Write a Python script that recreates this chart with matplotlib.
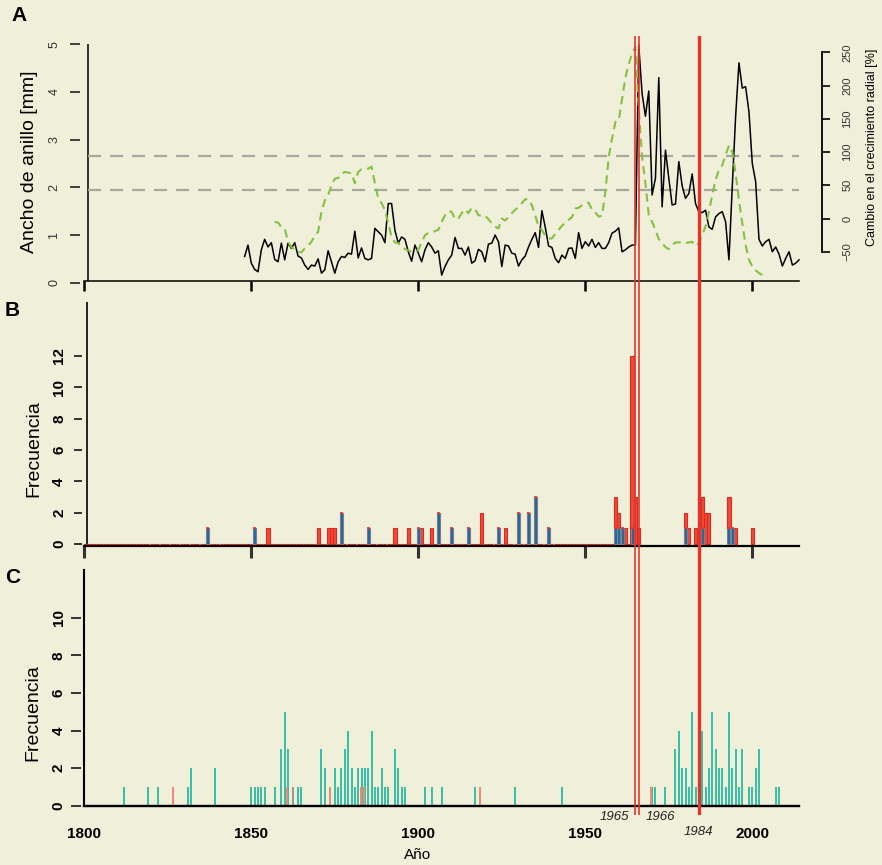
import numpy as np
import matplotlib
matplotlib.use("Agg")
import matplotlib.pyplot as plt

plt.rcParams["font.family"] = ["Liberation Sans", "DejaVu Sans"]

# ---- data ----
ring_start = 1848
ring_width = [
    0.55, 0.79, 0.41, 0.28, 0.23, 0.69, 0.91, 0.75, 0.84, 0.49,
    0.44, 0.83, 0.48, 0.83, 0.72, 0.84, 0.56, 0.52, 0.37, 0.28,
    0.37, 0.35, 0.50, 0.20, 0.27, 0.67, 0.44, 0.20, 0.44, 0.55,
    0.53, 0.62, 0.60, 1.08, 0.52, 0.73, 0.51, 0.48, 0.51, 1.14,
    1.07, 1.00, 0.84, 1.66, 1.66, 1.10, 0.83, 0.96, 0.91, 0.65,
    0.45, 0.79, 0.62, 0.44, 0.69, 0.84, 0.75, 0.62, 0.67, 0.16,
    0.34, 0.48, 0.58, 0.95, 0.72, 0.72, 0.58, 0.75, 0.41, 0.46,
    0.70, 0.65, 0.44, 0.81, 0.83, 1.00, 0.86, 0.34, 0.79, 0.77,
    0.62, 0.60, 0.35, 0.48, 0.56, 0.75, 0.91, 1.05, 0.74, 1.51,
    1.17, 0.77, 0.74, 0.51, 0.42, 0.58, 0.51, 0.72, 0.73, 0.51,
    1.05, 0.72, 0.86, 0.77, 0.91, 0.74, 0.84, 0.72, 0.72, 0.84,
    1.04, 1.08, 1.15, 0.65, 0.69, 0.75, 0.79, 0.79, 4.98, 3.97,
    3.49, 4.02, 1.84, 2.19, 4.30, 1.59, 2.78, 2.19, 1.63, 1.65,
    2.54, 2.03, 1.77, 1.87, 2.28, 1.66, 1.49, 1.47, 1.52, 1.17,
    1.12, 1.38, 1.45, 1.49, 1.28, 0.48, 2.01, 3.48, 4.61, 4.08,
    4.11, 3.58, 2.50, 2.12, 0.91, 0.77, 0.86, 0.91, 0.65, 0.75,
    0.60, 0.35, 0.51, 0.65, 0.37, 0.41, 0.48,
]

growth_start = 1857
growth_change = [
    -5, -6, -13, -15, -35, -43, -47, -50, -51, -45,
    -41, -35, -26, -20, 10, 27, 35, 50, 60, 61,
    67, 70, 69, 68, 53, 70, 74, 74, 75, 78,
    53, 30, 23, 13, -7, -28, -36, -37, -43, -46,
    -48, -50, -50, -47, -36, -25, -22, -21, -19, -17,
    -5, 5, 11, 10, -1, 0, 8, 14, 8, 16,
    14, 5, 4, 4, -1, -7, -12, -15, 0, -3,
    2, 8, 13, 17, 23, 29, 29, 20, 5, -12,
    -17, -26, -30, -30, -23, -17, -11, -6, -2, 2,
    15, 16, 20, 23, 24, 13, 9, 3, 4, 40,
    92, 120, 145, 147, 180, 212, 232, 248, 258, 165,
    93, 53, 5, -5, -17, -31, -37, -43, -46, -40,
    -36, -36, -35, -37, -36, -35, -41, -37, -25, -12,
    10, 35, 58, 73, 80, 95, 110, 100, 68, 28,
    -7, -40, -62, -72, -78, -82, -85,
]
threshold_mm = [2.66, 1.95]

event_years = [1965, 1966]
event_major = 1984

b_years = [1837, 1851, 1855, 1870, 1873, 1874, 1875, 1877, 1885, 1893,
           1897, 1900, 1901, 1904, 1906, 1910, 1915, 1919, 1924, 1926,
           1930, 1933, 1935, 1939, 1959, 1960, 1961, 1962, 1964, 1965,
           1966, 1980, 1981, 1983, 1985, 1986, 1987, 1993, 1994, 1995,
           2000]
b_total = [1, 1, 1, 1, 1, 1, 1, 2, 1, 1,
           1, 1, 1, 1, 2, 1, 1, 2, 1, 1,
           2, 2, 3, 1, 3, 2, 1, 1, 12, 3,
           1, 2, 1, 1, 3, 2, 2, 3, 1, 1,
           1]
b_blue = [1, 1, 0, 0, 0, 0, 0, 2, 1, 0,
          0, 1, 0, 0, 2, 1, 1, 0, 1, 0,
          2, 2, 3, 1, 1, 1, 1, 0, 1, 0,
          0, 1, 0, 0, 1, 0, 0, 1, 1, 0,
          0]
b_first, b_last = 1800, 1966

c_years = [1812, 1819, 1822, 1831, 1832, 1839, 1850, 1851, 1852, 1853,
           1854, 1857, 1859, 1860, 1861, 1864, 1865, 1871, 1872, 1875,
           1876, 1877, 1878, 1879, 1880, 1881, 1882, 1883, 1884, 1885,
           1886, 1887, 1888, 1889, 1890, 1891, 1893, 1894, 1895, 1896,
           1902, 1904, 1907, 1917, 1929, 1943, 1970, 1971, 1974, 1977,
           1978, 1979, 1980, 1981, 1982, 1983, 1985, 1986, 1987, 1988,
           1989, 1990, 1991, 1992, 1993, 1994, 1995, 1996, 1997, 1999,
           2000, 2001, 2002, 2007, 2008]
c_counts = [1, 1, 1, 1, 2, 2, 1, 1, 1, 1,
            1, 1, 3, 5, 3, 1, 1, 3, 2, 2,
            1, 2, 3, 4, 2, 1, 2, 2, 2, 2,
            4, 1, 1, 2, 1, 1, 3, 2, 1, 1,
            1, 1, 1, 1, 1, 1, 1, 1, 1, 3,
            4, 2, 2, 1, 5, 1, 4, 1, 2, 5,
            3, 2, 2, 1, 5, 2, 3, 1, 3, 1,
            1, 2, 3, 1, 1]
c_red_years = [1826.7, 1860.6, 1873.7, 1882.7, 1883.6, 1918.5, 1969.7]
c_red_counts = [1, 1, 1, 1, 1, 1, 1]
c_grey_years = [1862.4]
c_grey_counts = [1]

x_ticks = [1800, 1850, 1900, 1950, 2000]

# ---- styling ----
BG = "#F0EFDA"
RED = "#E4342A"
BLUE = "#246B9C"
TEAL = "#3BBFA6"
GREEN = "#86C043"
GREY = "#A8A89C"

W, H = 882, 865
X0, X1 = 1800, 2014
XL, XR = 84.3, 84.3 + 214 * 3.34


def box(top, bottom, left=XL, right=XR):
    return [left / W, 1 - bottom / H, (right - left) / W, (bottom - top) / H]


fig = plt.figure(figsize=(W / 100, H / 100), dpi=100, facecolor=BG)

# ---------- panel A ----------
ax_a = fig.add_axes(box(34.7, 285.6))
ax_a.set_facecolor("none")
ax_a.set_xlim(X0, X1)
ax_a.set_ylim(-0.06, 5.2)
for s in ["top", "right", "left"]:
    ax_a.spines[s].set_visible(False)
ax_a.spines["left"].set_position(("outward", 3))
ax_a.spines["bottom"].set_position(("data", 0.03))
ax_a.spines["bottom"].set_linewidth(1.1)
ax_a.set_xticks(x_ticks)
ax_a.tick_params(axis="x", length=7, width=1.8, color="black", labelbottom=False)
ax_a.set_yticks(range(6))
ax_a.tick_params(axis="y", length=7.2, width=1.2, color="#222", labelsize=9,
                 labelcolor="#333", pad=7, labelrotation=90)
for t in ax_a.get_yticklabels():
    t.set_va("center")
ax_a.vlines(1801, 0.03, 5, color="black", lw=1.1)

ax_a.hlines(threshold_mm, 1801, X1, colors=GREY, lw=1.6, linestyles=(0, (5.9, 4)))
yrs_a = np.arange(ring_start, ring_start + len(ring_width))
ax_a.plot(yrs_a, ring_width, color="black", lw=1.1, clip_on=False, zorder=4)

ax_r = ax_a.twinx()
ax_r.set_ylim(-100.9, 276.4)
for s in ["top", "left", "bottom"]:
    ax_r.spines[s].set_visible(False)
ax_r.spines["right"].set_position(("axes", (822 - XL) / (XR - XL)))
ax_r.spines["right"].set_bounds(-50, 250)
ax_r.spines["right"].set_linewidth(1.3)
ax_r.set_yticks(range(-50, 251, 50))
ax_r.tick_params(axis="y", length=5.8, width=1.2, labelsize=8, labelcolor="#333",
                 pad=9, labelrotation=90)
for t in ax_r.get_yticklabels():
    t.set_va("center")
yrs_g = np.arange(growth_start, growth_start + len(growth_change))
ax_r.plot(yrs_g, growth_change, color=GREEN, lw=1.5, ls=(0, (4, 2.6)), zorder=3)

# ---------- panel B ----------
ax_b = fig.add_axes(box(301.6, 545.6))
ax_b.set_facecolor("none")
ax_b.set_xlim(X0, X1)
ax_b.set_ylim(-0.1, 15.45)
for s in ["top", "right", "left"]:
    ax_b.spines[s].set_visible(False)
ax_b.spines["left"].set_position(("outward", 1.3))
ax_b.spines["bottom"].set_linewidth(1.6)
ax_b.set_xticks(x_ticks)
ax_b.tick_params(axis="x", length=8.6, width=2.2, color="#333", labelbottom=False)
ax_b.set_yticks(range(0, 13, 2))
ax_b.tick_params(axis="y", length=5.8, width=1.4, color="#333", labelsize=11,
                 pad=6, labelrotation=90)
for t in ax_b.get_yticklabels():
    t.set_va("center")
    t.set_fontweight("bold")
ax_b.axvline(1800.8, color="black", lw=1.2)

all_years = np.arange(b_first, b_last + 1)
all_total = np.zeros(len(all_years))
for y, v in zip(b_years, b_total):
    if y <= b_last:
        all_total[y - b_first] = v
late = [(y, v) for y, v in zip(b_years, b_total) if y > b_last]
bar_years = np.concatenate([all_years, [y for y, _ in late]])
bar_vals = np.concatenate([all_total, [v for _, v in late]])
ax_b.bar(bar_years, bar_vals, width=0.95, color="#EC4B3C", edgecolor="#E02A20",
         lw=0.8, zorder=2)
blue_years = [y for y, b in zip(b_years, b_blue) if b > 0]
blue_vals = [b for b in b_blue if b > 0]
ax_b.bar(blue_years, blue_vals, width=0.9, color=BLUE, edgecolor="#7E93A8",
         lw=0.5, zorder=3)
ax_b.hlines(blue_vals, np.array(blue_years) - 0.45, np.array(blue_years) + 0.45,
            colors=RED, lw=1.2, zorder=4)

# ---------- panel C ----------
ax_c = fig.add_axes(box(570, 805.7))
ax_c.set_facecolor("none")
ax_c.set_xlim(X0, X1)
ax_c.set_ylim(0, 12.54)
for s in ["top", "right", "left", "bottom"]:
    ax_c.spines[s].set_visible(False)
ax_c.spines["left"].set_position(("outward", 2.3))
ax_c.spines["bottom"].set_position(("outward", 10))
ax_c.set_xticks(x_ticks)
ax_c.set_xticks([1950, 2000], minor=True)
ax_c.tick_params(axis="x", which="major", length=0, labelsize=11, pad=5)
ax_c.tick_params(axis="x", which="minor", length=2.9, width=1.5, color="#333")
for t in ax_c.get_xticklabels():
    t.set_fontweight("bold")
ax_c.set_yticks(range(0, 11, 2))
ax_c.tick_params(axis="y", length=7.2, width=1.4, color="#333", labelsize=11,
                 pad=4, labelrotation=90)
for t in ax_c.get_yticklabels():
    t.set_va("center")
    t.set_fontweight("bold")
ax_c.axhline(0, color="black", lw=1.7, clip_on=False, zorder=5)
ax_c.axvline(1800, color="black", lw=1.5, clip_on=False, zorder=5)

ax_c.vlines(c_years, 0, c_counts, colors=TEAL, lw=1.44, antialiased=False, zorder=2)
ax_c.vlines(c_red_years, 0, c_red_counts, colors="#F08A78", lw=1.44,
            antialiased=False, zorder=3)
ax_c.vlines(c_grey_years, 0, c_grey_counts, colors="#9C9A8E", lw=1.44,
            antialiased=False, zorder=3)

lab = dict(fontsize=9.5, style="italic", color="#222", va="center",
           textcoords="offset points")
ax_c.annotate(str(event_years[0]), xy=(event_years[0], 0), xytext=(-4.8, -7.9),
              ha="right", **lab)
ax_c.annotate(str(event_years[1]), xy=(event_years[1], 0), xytext=(5, -7.9),
              ha="left", **lab)
ax_c.annotate(str(event_major), xy=(event_major, 0), xytext=(0, -18.7),
              ha="center", **lab)

# ---------- red event lines across all panels ----------
ax_o = fig.add_axes(box(36, 815))
ax_o.set_xlim(X0, X1)
ax_o.set_ylim(0, 1)
ax_o.axis("off")
ax_o.set_zorder(10)
for y in event_years:
    ax_o.axvline(y, color=RED, lw=1.2)
ax_o.axvline(event_major, color=RED, lw=2.4)

# ---------- labels ----------
fig.text(19.5 / W, 1 - 15.5 / H, "A", fontsize=15, fontweight="bold", ha="center", va="center")
fig.text(12.5 / W, 1 - 310.5 / H, "B", fontsize=15, fontweight="bold", ha="center", va="center")
fig.text(12.5 / W, 1 - 577.5 / H, "C", fontsize=15, fontweight="bold", ha="center", va="center")
fig.text(29.5 / W, 1 - 162 / H, "Ancho de anillo [mm]", fontsize=14, rotation=90,
         ha="center", va="center")
fig.text(872 / W, 1 - 147 / H, "Cambio en el crecimiento radial [%]", fontsize=9,
         rotation=90, ha="center", va="center")
fig.text(34 / W, 1 - 449 / H, "Frecuencia", fontsize=14, rotation=90,
         ha="center", va="center")
fig.text(33 / W, 1 - 712.5 / H, "Frecuencia", fontsize=14, rotation=90,
         ha="center", va="center")
fig.text(418 / W, 1 - 855 / H, "Año", fontsize=11, ha="center", va="center")

fig.savefig("out.png", dpi=100, facecolor=BG)
